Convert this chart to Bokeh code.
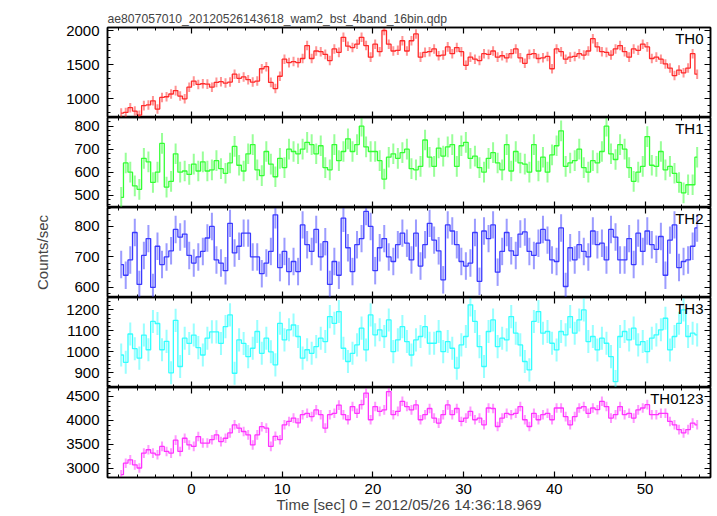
import numpy as np
from bokeh.plotting import figure
from bokeh.layouts import column
from bokeh.models import (LinearAxis, SingleIntervalTicker, Range1d, Label,
                          ColumnDataSource, CustomLabelingPolicy)
from bokeh.embed import file_html
from bokeh.resources import INLINE

TITLE = "ae807057010_20120526143618_wam2_bst_4band_16bin.qdp"
X_LABEL = "Time [sec] 0 = 2012/05/26 14:36:18.969"
Y_LABEL = "Counts/sec"

# time bins (sec): first bin starts at T_START, width BIN
T_START = -8.0
BIN = 0.5
X_START, X_END = -9.26, 57.22

names = ["TH0", "TH1", "TH2", "TH3", "TH0123"]

th0 = [
    790, 800, 870, 820, 760, 900, 910, 970,
    850, 1020, 1030, 1070, 1120, 1040, 1000, 1170,
    1260, 1210, 1220, 1215, 1170, 1240, 1250, 1230,
    1245, 1360, 1300, 1320, 1280, 1245, 1260, 1440,
    1470, 1240, 1150, 1330, 1580, 1530, 1545, 1530,
    1590, 1780, 1590, 1700, 1690, 1650, 1560, 1730,
    1680, 1900, 1770, 1750, 1800, 1900, 1780, 1610,
    1800, 1690, 2000, 1800, 1700, 1710, 1850, 1700,
    1850, 1950, 1610, 1680, 1690, 1730, 1630, 1640,
    1760, 1660, 1750, 1690, 1490, 1610, 1580, 1560,
    1660, 1650, 1700, 1610, 1630, 1600, 1660, 1730,
    1600, 1520, 1650, 1660, 1590, 1600, 1620, 1440,
    1730, 1690, 1580, 1610, 1620, 1660, 1640, 1700,
    1880, 1760, 1690, 1680, 1640, 1730, 1780, 1690,
    1610, 1730, 1710, 1800, 1760, 1590, 1610, 1580,
    1510, 1450, 1340, 1420, 1380, 1450, 1660, 1360,
]
th1 = [
    490, 640, 600, 540, 525, 660, 645, 555,
    600, 725, 535, 560, 680, 600, 605, 590,
    635, 605, 645, 605, 610, 650, 615, 595,
    640, 712, 630, 605, 680, 720, 610, 585,
    690, 635, 580, 660, 620, 700, 690, 680,
    700, 730, 720, 680, 715, 620, 610, 720,
    650, 690, 745, 690, 720, 800, 710, 690,
    690, 650, 570, 665, 680, 660, 685, 700,
    615, 610, 625, 740, 665, 625, 705, 670,
    710, 720, 625, 715, 730, 660, 670, 620,
    600, 660, 685, 640, 610, 720, 605, 690,
    640, 635, 600, 720, 605, 665, 600, 675,
    715, 780, 625, 640, 650, 700, 620, 600,
    650, 640, 690, 800, 680, 655, 720, 700,
    620, 560, 600, 625, 755, 630, 625, 690,
    610, 625, 595, 555, 510, 545, 545, 665,
]
th2 = [
    675, 640, 690, 780, 610, 705, 760, 600,
    735, 675, 700, 720, 790, 765, 775, 705,
    680, 700, 718, 762, 800, 690, 680, 655,
    810, 713, 735, 778, 778, 700, 700, 645,
    680, 718, 838, 665, 718, 652, 685, 652,
    805, 740, 718, 790, 700, 750, 610, 685,
    640, 827, 730, 652, 740, 760, 849, 800,
    655, 730, 760, 700, 685, 740, 778, 745,
    690, 778, 670, 740, 810, 755, 720, 625,
    805, 785, 740, 685, 670, 680, 780, 620,
    785, 760, 805, 650, 718, 780, 720, 705,
    775, 782, 718, 705, 745, 790, 755, 690,
    685, 795, 603, 730, 690, 740, 718, 700,
    785, 740, 745, 690, 790, 765, 690, 690,
    760, 675, 778, 718, 785, 740, 725, 767,
    640, 755, 805, 665, 685, 690, 735, 795,
]
th3 = [
    985, 950, 1085, 1015, 970, 1080, 1010, 1145,
    1135, 1010, 1050, 900, 1150, 930, 1065, 1040,
    1080, 1020, 985, 1065, 1095, 1095, 1040, 1120,
    1176, 898, 1057, 1040, 977, 1017, 1097, 993,
    1065, 1000, 938, 1136, 1057, 1105, 1128, 1073,
    970, 1010, 993, 1025, 1065, 1049, 1168, 1136,
    1192, 1017, 954, 993, 1033, 1113, 1009, 1176,
    1081, 1105, 1073, 1152, 1001, 1057, 1120, 1049,
    985, 1057, 1073, 1120, 1041, 1041, 1097, 1001,
    1049, 1017, 922, 1033, 1073, 1224, 1145, 1025,
    930, 1097, 1152, 1025, 1065, 1057, 1168, 1089,
    1033, 954, 914, 1145, 1192, 1089, 1097, 1041,
    1009, 1097, 1081, 1168, 1089, 1152, 1200, 1049,
    1073, 1009, 1065, 1041, 977, 858, 1073, 1097,
    1057, 1113, 1033, 1049, 1001, 1065, 1081, 1105,
    1160, 1009, 1073, 1136, 1200, 1073, 1089, 1081,
]
th0123 = [
    2870, 3110, 3180, 3076, 3010, 3320, 3390, 3320,
    3285, 3460, 3355, 3320, 3590, 3355, 3630, 3490,
    3460, 3665, 3530, 3530, 3600, 3700, 3560, 3630,
    3740, 3910, 3840, 3770, 3700, 3490, 3700, 3870,
    3840, 3460, 3670, 3600, 3910, 3980, 4050, 3950,
    4120, 4150, 4080, 4220, 4120, 3840, 4120, 4150,
    4320, 4120, 4015, 4290, 4150, 4330, 4570, 4015,
    4290, 4190, 4220, 4600, 4120, 4190, 4400, 4290,
    4220, 4325, 4015, 4120, 4250, 4050, 3945, 4120,
    4325, 4120, 4250, 3980, 4050, 4190, 4015, 4050,
    3910, 4260, 4250, 3875, 4050, 4150, 4120, 4150,
    4290, 4015, 3875, 4150, 4015, 4120, 4150, 4015,
    4260, 4260, 4080, 3910, 4080, 4260, 4290, 4150,
    4260, 4225, 4400, 4290, 4050, 4120, 4290, 4120,
    4150, 4050, 4220, 4260, 4330, 4120, 4120, 4150,
    4150, 3980, 3910, 3810, 3740, 3810, 3945, 3910,
]
# typical 1-sigma error per band (counts/sec)
errors = [70, 45, 45, 55, 100]
# y-axis ranges and major tick spacing per panel
y_ranges = [(726, 2044), (446, 838), (567, 862), (830, 1259), (2812, 4687)]
y_major = [500, 100, 100, 100, 500]
colors = ["#ff2a2a", "#33ff33", "#3a3aff", "#33ffff", "#ff33ff"]

FONT = "Liberation Sans"
FRAME_W = 603
FRAME_H = 90
LEFT = 107
TOP = 27


def style_axis(ax, labels=True):
    ax.major_tick_in = 6
    ax.major_tick_out = 0
    ax.minor_tick_in = 3
    ax.minor_tick_out = 0
    ax.axis_line_color = "black"
    ax.axis_line_width = 1.5
    ax.major_tick_line_color = "black"
    ax.minor_tick_line_color = "black"
    ax.major_tick_line_width = 1.2
    ax.minor_tick_line_width = 1
    ax.major_label_text_font = FONT
    ax.major_label_text_color = "black"
    if labels:
        ax.major_label_text_font_size = "15px"
    else:
        ax.major_label_text_font_size = "0px"
        ax.major_label_standoff = 0
        ax.major_label_policy = CustomLabelingPolicy(code="return new Set()")


x_range = Range1d(X_START, X_END)
figs = []
series = [th0, th1, th2, th3, th0123]
for i, name in enumerate(names):
    vals = np.array(series[i], dtype=float)
    t = T_START + BIN * (np.arange(len(vals)) + 0.5)
    err = errors[i]
    src = ColumnDataSource(dict(t=t, v=vals, lo=vals - err, hi=vals + err))
    first = i == 0
    last = i == len(names) - 1
    kw = {} if first else {"title": None}
    p = figure(frame_width=FRAME_W, frame_height=FRAME_H,
               x_range=x_range, y_range=Range1d(*y_ranges[i]),
               output_backend="svg", toolbar_location=None,
               x_axis_location=None, y_axis_location=None,
               min_border_left=LEFT, min_border_right=5,
               min_border_top=TOP if first else 0,
               min_border_bottom=0,
               background_fill_color="white", border_fill_color="white",
               **kw)
    p.xgrid.visible = False
    p.ygrid.visible = False
    p.outline_line_color = "black"
    p.outline_line_width = 1.5

    p.segment(x0="t", y0="lo", x1="t", y1="hi", source=src,
              line_color=colors[i], line_alpha=0.5, line_width=2)
    p.step(x="t", y="v", source=src, mode="center",
           line_color=colors[i], line_width=1.3)

    bottom = LinearAxis(ticker=SingleIntervalTicker(interval=10, num_minor_ticks=5))
    top = LinearAxis(ticker=SingleIntervalTicker(interval=10, num_minor_ticks=5))
    left = LinearAxis(ticker=SingleIntervalTicker(interval=y_major[i],
                                                  num_minor_ticks=5))
    right = LinearAxis(ticker=SingleIntervalTicker(interval=y_major[i],
                                                   num_minor_ticks=5))
    style_axis(bottom, labels=last)
    style_axis(top, labels=False)
    style_axis(right, labels=False)
    style_axis(left, labels=True)
    left.major_label_standoff = 8

    if last:
        bottom.major_label_standoff = 6
        bottom.axis_label = X_LABEL
        bottom.axis_label_text_font = FONT
        bottom.axis_label_text_font_size = "15px"
        bottom.axis_label_text_font_style = "normal"
        bottom.axis_label_standoff = -1
    if name == "TH2":
        left.axis_label = Y_LABEL
        left.axis_label_text_font = FONT
        left.axis_label_text_font_size = "15px"
        left.axis_label_text_font_style = "normal"
        left.axis_label_standoff = 20

    p.add_layout(bottom, "below")
    p.add_layout(top, "above")
    p.add_layout(left, "left")
    p.add_layout(right, "right")

    if first:
        p.title.text = TITLE
        p.title.text_font = FONT
        p.title.text_font_size = "12.2px"
        p.title.text_font_style = "normal"
        p.title.align = "left"
        p.title.offset = 0
        p.title.standoff = 4

    p.add_layout(Label(x=X_END, y=y_ranges[i][1], x_offset=-7, y_offset=-2,
                       text=name, text_align="right", text_baseline="top",
                       text_font=FONT, text_font_size="15px",
                       text_color="black"))
    figs.append(p)

layout = column(*figs, spacing=0)
open("out.html", "w").write(file_html(layout, INLINE))
